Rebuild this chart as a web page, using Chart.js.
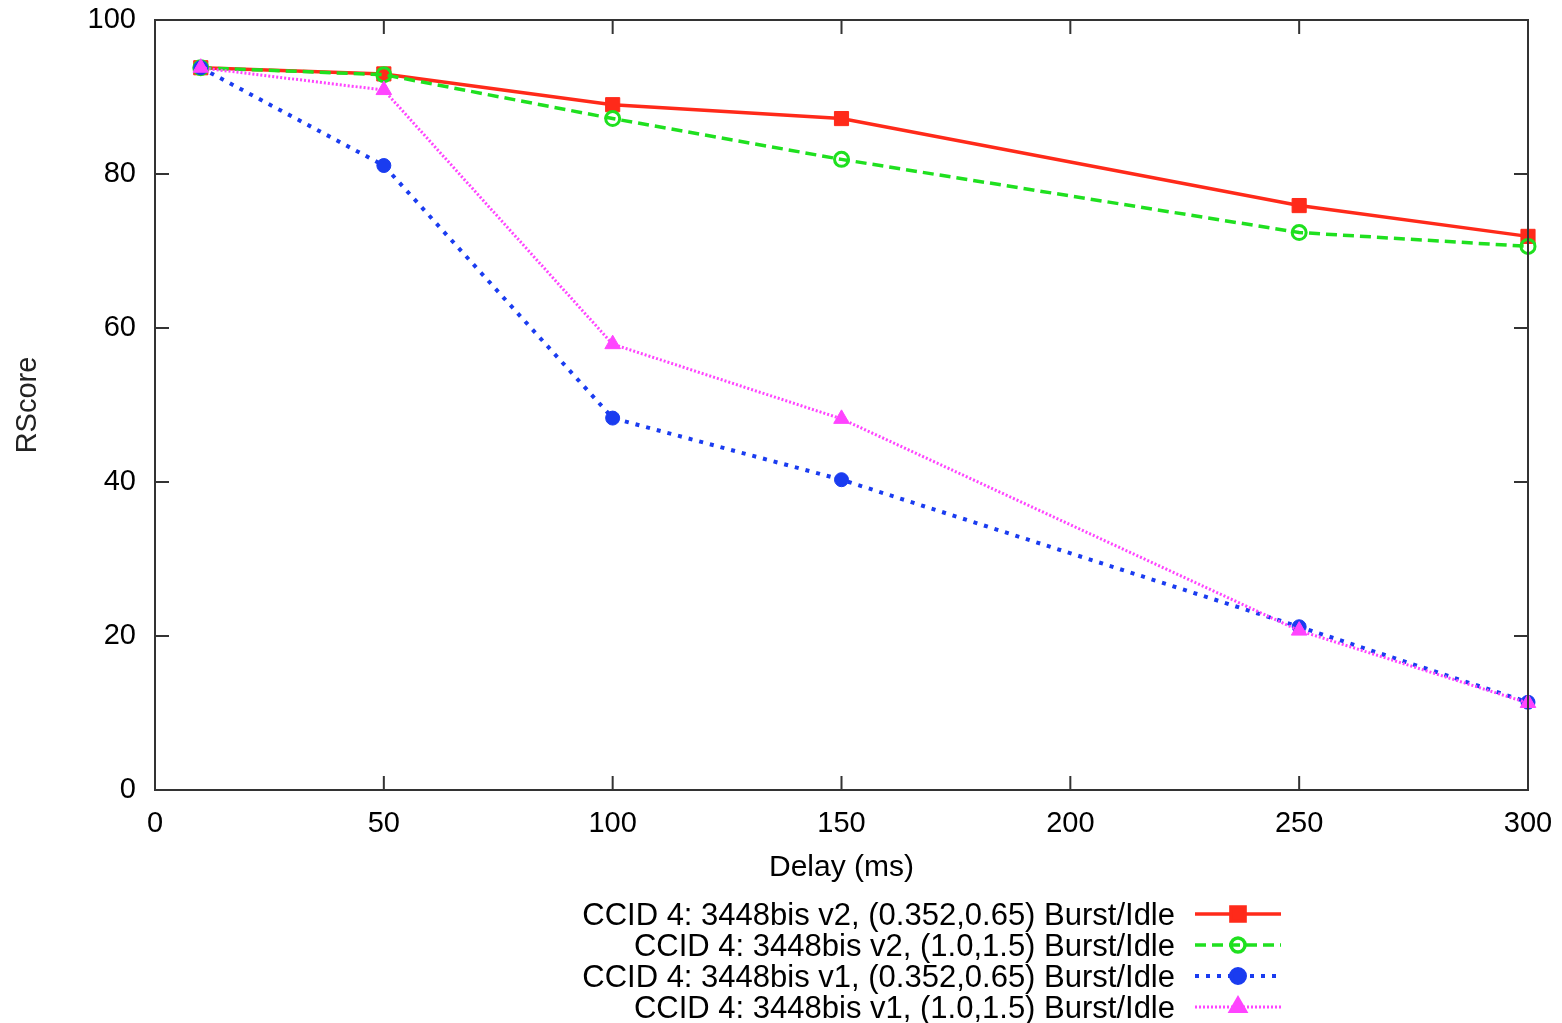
<!DOCTYPE html>
<html>
<head>
<meta charset="utf-8">
<script src="https://cdn.jsdelivr.net/npm/chart.js@4"></script>
<style>
html, body { margin: 0; padding: 0; background: #fff; }
</style>
</head>
<body>
<canvas id="rscoreChart" width="1562" height="1023"></canvas>
<script>
// data
const delays = [10, 50, 100, 150, 250, 300];
const v2Small = [93.8, 93.0, 89.0, 87.2, 75.9, 71.9];
const v2Large = [93.8, 92.9, 87.2, 81.9, 72.4, 70.6];
const v1Small = [93.8, 81.1, 48.3, 40.3, 21.2, 11.4];
const v1Large = [93.8, 90.9, 57.9, 48.2, 20.7, 11.3];
const xTicks = [0, 50, 100, 150, 200, 250, 300];
const yTicks = [0, 20, 40, 60, 80, 100];
const seriesLabels = [
    'CCID 4: 3448bis v2, (0.352,0.65) Burst/Idle',
    'CCID 4: 3448bis v2, (1.0,1.5) Burst/Idle',
    'CCID 4: 3448bis v1, (0.352,0.65) Burst/Idle',
    'CCID 4: 3448bis v1, (1.0,1.5) Burst/Idle'
];

const FONT = '"Liberation Sans", Arial, Helvetica, sans-serif';

function pts(ys) {
    return delays.map((x, i) => ({ x: x, y: ys[i] }));
}

// kader + ticks naar binnen (gnuplot stijl)
const frameTicks = {
    id: 'frameTicks',
    afterDatasetsDraw(chart) {
        const ctx = chart.ctx;
        const a = chart.chartArea;
        const xs = chart.scales.x;
        const ys = chart.scales.y;
        const len = 14;
        ctx.save();
        ctx.strokeStyle = '#333';
        ctx.lineWidth = 2;
        ctx.beginPath();
        xTicks.forEach(v => {
            const px = xs.getPixelForValue(v);
            ctx.moveTo(px, a.bottom); ctx.lineTo(px, a.bottom - len);
            ctx.moveTo(px, a.top); ctx.lineTo(px, a.top + len);
        });
        yTicks.forEach(v => {
            const py = ys.getPixelForValue(v);
            ctx.moveTo(a.left, py); ctx.lineTo(a.left + len, py);
            ctx.moveTo(a.right, py); ctx.lineTo(a.right - len, py);
        });
        ctx.stroke();
        ctx.strokeRect(a.left, a.top, a.right - a.left, a.bottom - a.top);
        ctx.restore();
    }
};

// legenda onder de grafiek: tekst rechts uitgelijnd, lijnstuk met marker
const legendRows = {
    id: 'legendRows',
    afterDraw(chart) {
        const ctx = chart.ctx;
        const textRight = 1175;
        const lineFrom = 1195, lineTo = 1281;
        ctx.save();
        ctx.font = '31px ' + FONT;
        ctx.textAlign = 'right';
        ctx.textBaseline = 'middle';
        chart.data.datasets.forEach((ds, i) => {
            const y = 916 + i * 31;
            ctx.fillStyle = '#000';
            ctx.fillText(ds.label, textRight, y);
            ctx.strokeStyle = ds.borderColor;
            ctx.lineWidth = ds.borderWidth;
            ctx.setLineDash(ds.borderDash || []);
            ctx.beginPath();
            ctx.moveTo(lineFrom, y - 2);
            ctx.lineTo(lineTo, y - 2);
            ctx.stroke();
            ctx.setLineDash([]);
            ctx.fillStyle = ds.pointBackgroundColor;
            ctx.strokeStyle = ds.pointBorderColor;
            Chart.helpers.drawPoint(ctx, {
                pointStyle: ds.pointStyle,
                radius: ds.pointRadius,
                borderWidth: ds.pointBorderWidth,
                rotation: 0
            }, (lineFrom + lineTo) / 2, y - 2);
        });
        ctx.restore();
    }
};

const ctx = document.getElementById('rscoreChart').getContext('2d');
new Chart(ctx, {
    type: 'line',
    data: {
        datasets: [
            {
                label: seriesLabels[0],
                data: pts(v2Small),
                borderColor: '#ff2a1a',
                borderWidth: 3.5,
                pointStyle: 'rect',
                pointRadius: 10,
                pointBackgroundColor: '#ff2a1a',
                pointBorderColor: '#ff2a1a',
                pointBorderWidth: 1,
                order: 4
            },
            {
                label: seriesLabels[1],
                data: pts(v2Large),
                borderColor: '#1fe01f',
                borderWidth: 3.5,
                borderDash: [11, 6],
                pointStyle: 'circle',
                pointRadius: 7,
                pointBackgroundColor: 'rgba(255,255,255,0)',
                pointBorderColor: '#1fe01f',
                pointBorderWidth: 3,
                order: 3
            },
            {
                label: seriesLabels[2],
                data: pts(v1Small),
                borderColor: '#1a3cf0',
                borderWidth: 4,
                borderDash: [4, 7],
                pointStyle: 'circle',
                pointRadius: 7,
                pointBackgroundColor: '#1a3cf0',
                pointBorderColor: '#1a3cf0',
                pointBorderWidth: 1,
                order: 2
            },
            {
                label: seriesLabels[3],
                data: pts(v1Large),
                borderColor: '#ff44ff',
                borderWidth: 3,
                borderDash: [2, 2],
                pointStyle: 'triangle',
                pointRadius: 9,
                pointBackgroundColor: '#ff44ff',
                pointBorderColor: '#ff44ff',
                pointBorderWidth: 1,
                order: 1
            }
        ]
    },
    options: {
        responsive: false,
        animation: false,
        devicePixelRatio: 1,
        layout: { padding: { top: 20, right: 34, bottom: 133, left: 0 } },
        elements: { line: { tension: 0, fill: false } },
        datasets: { line: { clip: false } },
        plugins: {
            legend: { display: false },
            tooltip: { enabled: false }
        },
        scales: {
            x: {
                type: 'linear',
                min: 0,
                max: 300,
                afterBuildTicks: s => { s.ticks = xTicks.map(v => ({ value: v })); },
                afterFit: s => {
                    s.height = 100;
                    s.paddingLeft = 0;
                    s.paddingRight = 0;
                },
                grid: { display: false, drawTicks: false },
                border: { display: false },
                ticks: {
                    color: '#000',
                    padding: 17,
                    maxRotation: 0,
                    font: { family: FONT, size: 29 }
                },
                title: {
                    display: true,
                    text: 'Delay (ms)',
                    color: '#000',
                    padding: { top: 0, bottom: 4 },
                    font: { family: FONT, size: 30 }
                }
            },
            y: {
                min: 0,
                max: 100,
                afterBuildTicks: s => { s.ticks = yTicks.map(v => ({ value: v })); },
                afterFit: s => {
                    s.width = 155;
                    s.paddingTop = 0;
                    s.paddingBottom = 0;
                },
                grid: { display: false, drawTicks: false },
                border: { display: false },
                ticks: {
                    color: '#000',
                    padding: 19,
                    font: { family: FONT, size: 29 }
                },
                title: {
                    display: true,
                    text: 'RScore',
                    color: '#222',
                    padding: { top: 11, bottom: 0 },
                    font: { family: FONT, size: 29 }
                }
            }
        }
    },
    plugins: [frameTicks, legendRows]
});
</script>
</body>
</html>
